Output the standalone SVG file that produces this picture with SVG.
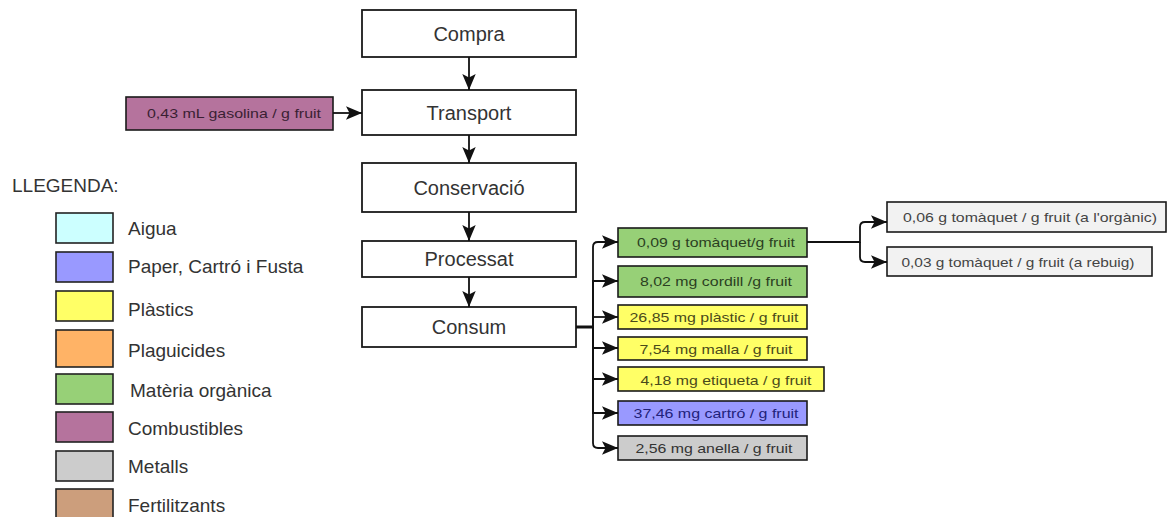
<svg xmlns="http://www.w3.org/2000/svg" width="1168" height="517" viewBox="0 0 1168 517">
<style>
text{font-family:"Liberation Sans",Arial,sans-serif;}
.main rect{fill:#fff;stroke:#1a1a1a;stroke-width:1.8;}
.main text{font-size:20px;fill:#333;text-anchor:middle;}
.sm rect{stroke:#1a1a1a;stroke-width:1.6;}
.sm text{font-size:13.5px;text-anchor:middle;}
.leg rect{stroke:#222;stroke-width:1.6;}
.leg text{font-size:19px;fill:#333;}
.edge{fill:none;stroke:#111;stroke-width:1.8;}
</style>
<defs>
<marker id="arr" markerUnits="userSpaceOnUse" markerWidth="16" markerHeight="16" viewBox="0 0 10 10" refX="10" refY="5" orient="auto">
<path d="M0,0.8 L10,5 L0,9.2 L2.2,5 z" fill="#111"/>
</marker>
</defs>
<rect width="1168" height="517" fill="#fff"/>

<g id="compra" class="main"><rect x="362" y="10" width="214" height="47"/><text x="469" y="41">Compra</text></g>
<g id="transport" class="main"><rect x="362" y="90" width="214" height="45"/><text x="469" y="120">Transport</text></g>
<g id="conservacio" class="main"><rect x="362" y="163" width="214" height="49"/><text x="469" y="195">Conservació</text></g>
<g id="processat" class="main"><rect x="362" y="241" width="214" height="36"/><text x="469" y="266">Processat</text></g>
<g id="consum" class="main"><rect x="362" y="307" width="214" height="40"/><text x="469" y="334">Consum</text></g>

<g id="gasolina" class="sm"><rect x="126" y="97" width="207" height="33" fill="#B5739D"/><text x="234" y="118" fill="#3a1f33" textLength="174" lengthAdjust="spacingAndGlyphs">0,43 mL gasolina / g fruit</text></g>

<g id="tomaquet" class="sm"><rect x="618" y="228" width="189" height="29" fill="#97D077"/><text x="716" y="247" fill="#2b3f22" textLength="158" lengthAdjust="spacingAndGlyphs">0,09 g tomàquet/g fruit</text></g>
<g id="cordill" class="sm"><rect x="618" y="266" width="189" height="31" fill="#97D077"/><text x="716" y="286" fill="#2b3f22" textLength="152" lengthAdjust="spacingAndGlyphs">8,02 mg cordill /g fruit</text></g>
<g id="plastic" class="sm"><rect x="618" y="305" width="189" height="24" fill="#FFFF66"/><text x="714" y="322" fill="#4a4a1a" textLength="169" lengthAdjust="spacingAndGlyphs">26,85 mg plàstic / g fruit</text></g>
<g id="malla" class="sm"><rect x="618" y="337" width="189" height="23" fill="#FFFF66"/><text x="716" y="354" fill="#4a4a1a" textLength="153" lengthAdjust="spacingAndGlyphs">7,54 mg malla / g fruit</text></g>
<g id="etiqueta" class="sm"><rect x="618" y="367" width="206" height="24" fill="#FFFF66"/><text x="726" y="385" fill="#4a4a1a" textLength="171" lengthAdjust="spacingAndGlyphs">4,18 mg etiqueta / g fruit</text></g>
<g id="cartro" class="sm"><rect x="618" y="401" width="189" height="24" fill="#9999FF"/><text x="716" y="418" fill="#22227a" textLength="165" lengthAdjust="spacingAndGlyphs">37,46 mg cartró / g fruit</text></g>
<g id="anella" class="sm"><rect x="618" y="436" width="189" height="24" fill="#CCCCCC"/><text x="714" y="453" fill="#333" textLength="157" lengthAdjust="spacingAndGlyphs">2,56 mg anella / g fruit</text></g>

<g id="organic" class="sm"><rect x="887" y="202" width="279" height="30" fill="#F2F2F2" stroke="#555"/><text x="1030" y="222" fill="#444" textLength="254" lengthAdjust="spacingAndGlyphs">0,06 g tomàquet / g fruit (a l'orgànic)</text></g>
<g id="rebuig" class="sm"><rect x="887" y="247" width="265" height="29" fill="#F2F2F2" stroke="#555"/><text x="1018" y="267" fill="#444" textLength="233" lengthAdjust="spacingAndGlyphs">0,03 g tomàquet / g fruit (a rebuig)</text></g>

<g id="legend" class="leg">
<text x="12" y="192">LLEGENDA:</text>
<rect x="56" y="213" width="57" height="30" fill="#CCFFFF"/><text x="128" y="235">Aigua</text>
<rect x="56" y="252" width="57" height="30" fill="#9999FF"/><text x="128" y="273">Paper, Cartró i Fusta</text>
<rect x="56" y="291" width="57" height="30" fill="#FFFF66"/><text x="128" y="316">Plàstics</text>
<rect x="56" y="330" width="57" height="37" fill="#FFB366"/><text x="128" y="357">Plaguicides</text>
<rect x="56" y="374" width="57" height="30" fill="#97D077"/><text x="130" y="397">Matèria orgànica</text>
<rect x="56" y="412" width="57" height="30" fill="#B5739D"/><text x="128" y="435">Combustibles</text>
<rect x="56" y="451" width="57" height="30" fill="#CCCCCC"/><text x="128" y="473">Metalls</text>
<rect x="56" y="489" width="57" height="34" fill="#CC9E7C"/><text x="128" y="512">Fertilitzants</text>
</g>

<g id="connectors">
<path class="edge" d="M469,57 V90" marker-end="url(#arr)"/>
<path class="edge" d="M469,135 V163" marker-end="url(#arr)"/>
<path class="edge" d="M469,212 V241" marker-end="url(#arr)"/>
<path class="edge" d="M469,277 V307" marker-end="url(#arr)"/>
<path class="edge" d="M333,113 H362" marker-end="url(#arr)"/>
<path class="edge" d="M576,327 H593" style="stroke-width:3"/>
<path class="edge" d="M593,327 V247 Q593,242 598,242 H618" marker-end="url(#arr)"/>
<path class="edge" d="M593,327 V281 H618" marker-end="url(#arr)"/>
<path class="edge" d="M593,317 H618" marker-end="url(#arr)"/>
<path class="edge" d="M593,327 V348 H618" marker-end="url(#arr)"/>
<path class="edge" d="M593,327 V379 H618" marker-end="url(#arr)"/>
<path class="edge" d="M593,327 V413 H618" marker-end="url(#arr)"/>
<path class="edge" d="M593,327 V443 Q593,448 598,448 H618" marker-end="url(#arr)"/>
<path class="edge" d="M807,242 H860 V227 Q860,222 865,222 H887" marker-end="url(#arr)"/>
<path class="edge" d="M860,242 V257 Q860,262 865,262 H887" marker-end="url(#arr)"/>
</g>
</svg>
